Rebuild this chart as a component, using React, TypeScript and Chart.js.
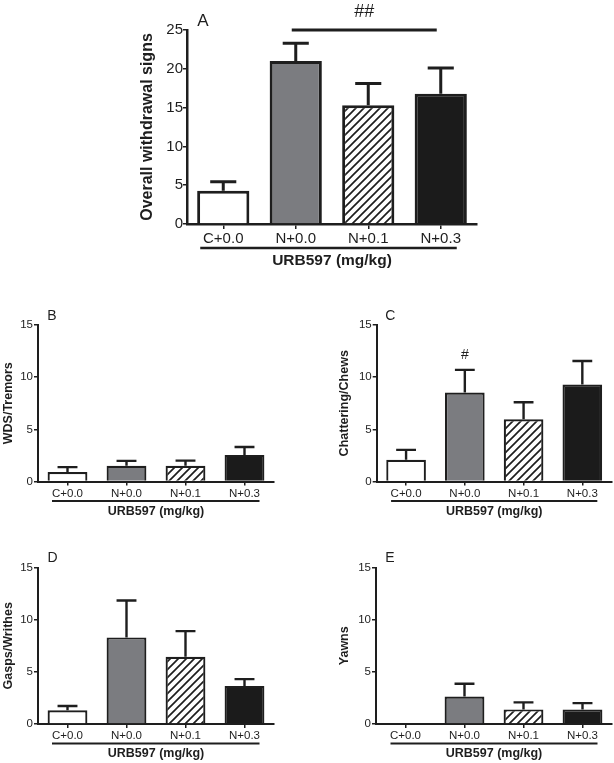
import React, { useEffect, useRef } from "react";
import { Chart, registerables } from "chart.js";

Chart.register(...registerables);

// ---------- data ----------
const categories = ["C+0.0", "N+0.0", "N+0.1", "N+0.3"];
const xAxisTitle = "URB597 (mg/kg)";

const overallMean = [4.3, 21.0, 15.3, 16.8];
const overallSem = [1.15, 2.3, 2.8, 3.3];
const overallTicks = [0, 5, 10, 15, 20, 25];

const wdsMean = [0.9, 1.5, 1.5, 2.55];
const wdsSem = [0.48, 0.48, 0.5, 0.75];

const chatterMean = [2.08, 8.52, 5.97, 9.3];
const chatterSem = [0.95, 2.18, 1.63, 2.25];

const gaspsMean = [1.32, 8.3, 6.44, 3.65];
const gaspsSem = [0.41, 3.53, 2.46, 0.65];

const yawnsMean = [0, 2.63, 1.4, 1.4];
const yawnsSem = [0, 1.23, 0.67, 0.6];

const smallTicks = [0, 5, 10, 15];

// significance marks: text, first bar index, last bar index
const sigOverall = { text: "##", from: 1, to: 3 };
const sigChatter = { text: "#", from: 1, to: 1 };

// ---------- styling ----------
const INK = "#1e1e1e";
const FONT = "'Liberation Sans', Arial, Helvetica, sans-serif";
const GRAY = "#7b7c80";
const BLACK = "#1b1b1b";

function makeHatch(): CanvasPattern | string {
  const size = 8;
  const c = document.createElement("canvas");
  c.width = size;
  c.height = size;
  const g = c.getContext("2d");
  if (!g) return "#fff";
  g.fillStyle = "#fff";
  g.fillRect(0, 0, size, size);
  g.strokeStyle = INK;
  g.lineWidth = 1.7;
  g.beginPath();
  g.moveTo(-size / 2, size / 2);
  g.lineTo(size / 2, -size / 2);
  g.moveTo(0, size);
  g.lineTo(size, 0);
  g.moveTo(size / 2, size * 1.5);
  g.lineTo(size * 1.5, size / 2);
  g.stroke();
  const p = g.createPattern(c, "repeat");
  return p || "#fff";
}

type Sig = { text: string; from: number; to: number } | null;

type PanelDef = {
  letter: string;
  yTitle: string;
  mean: number[];
  sem: number[];
  ticks: number[];
  sig: Sig;
  big: boolean;
  box: { left: number; top: number; w: number; h: number };
  padTop: number;
  padRight: number;
  yWidth: number;
  xHeight: number;
  yTitleX: number;
  letterDx: number;
  lineExt: [number, number];
};

const panels: PanelDef[] = [
  {
    letter: "A", yTitle: "Overall withdrawal signs", mean: overallMean, sem: overallSem,
    ticks: overallTicks, sig: sigOverall, big: true,
    box: { left: 120, top: 0, w: 370, h: 275 }, padTop: 30, padRight: 13, yWidth: 67, xHeight: 51,
    yTitleX: 28, letterDx: 16, lineExt: [23, 16],
  },
  {
    letter: "B", yTitle: "WDS/Tremors", mean: wdsMean, sem: wdsSem,
    ticks: smallTicks, sig: null, big: false,
    box: { left: 0, top: 290, w: 300, h: 230 }, padTop: 35, padRight: 26, yWidth: 38, xHeight: 38.5,
    yTitleX: 9, letterDx: 14, lineExt: [15.5, 15],
  },
  {
    letter: "C", yTitle: "Chattering/Chews", mean: chatterMean, sem: chatterSem,
    ticks: smallTicks, sig: sigChatter, big: false,
    box: { left: 300, top: 290, w: 314, h: 230 }, padTop: 35, padRight: 2.3, yWidth: 76.7, xHeight: 38.5,
    yTitleX: 45, letterDx: 13.5, lineExt: [15, 15],
  },
  {
    letter: "D", yTitle: "Gasps/Writhes", mean: gaspsMean, sem: gaspsSem,
    ticks: smallTicks, sig: null, big: false,
    box: { left: 0, top: 533, w: 300, h: 230 }, padTop: 34.5, padRight: 26, yWidth: 38, xHeight: 39,
    yTitleX: 8.5, letterDx: 14.5, lineExt: [15.5, 15],
  },
  {
    letter: "E", yTitle: "Yawns", mean: yawnsMean, sem: yawnsSem,
    ticks: smallTicks, sig: null, big: false,
    box: { left: 300, top: 533, w: 314, h: 230 }, padTop: 34.5, padRight: 2, yWidth: 76, xHeight: 39,
    yTitleX: 45, letterDx: 14, lineExt: [15, 15],
  },
];

function buildChart(canvas: HTMLCanvasElement, p: PanelDef, hatch: CanvasPattern | string) {
  const big = p.big;
  const tickSize = big ? 15 : 11.5;
  const yTitleSize = big ? 16 : 12.5;
  const xTitleSize = big ? 15.5 : 12.5;
  const letterSize = big ? 17 : 14;
  const sigSize = big ? 18 : 14;
  const barBorder = big ? 3 : 2.2;
  const errW = big ? 3 : 2.4;
  const axisW = big ? 2.5 : 2;
  const xTickLen = big ? 5 : 4;
  const tickCenterOff = big ? 15 : 12;
  const underlineOff = big ? 24 : 19.5;
  const xTitleOff = big ? 37 : 30;

  const xTickPad = tickCenterOff - xTickLen - (tickSize * 1.2) / 2;
  const xTitlePadBottom = p.xHeight - xTitleOff - (xTitleSize * 1.2) / 2;
  const yTitlePadTop = p.yTitleX - (yTitleSize * 1.2) / 2;
  const yMax = p.ticks[p.ticks.length - 1];

  const decor = {
    id: "decor" + p.letter,
    afterDatasetsDraw(chart: any) {
      const { ctx, chartArea } = chart;
      const x = chart.scales.x;
      const y = chart.scales.y;
      const meta = chart.getDatasetMeta(0);
      ctx.save();
      ctx.strokeStyle = INK;
      ctx.fillStyle = INK;
      ctx.lineCap = "butt";
      // error bars (upper half only)
      meta.data.forEach((bar: any, i: number) => {
        const m = p.mean[i];
        const s = p.sem[i];
        if (!(s > 0)) return;
        const base = y.getPixelForValue(m);
        const top = y.getPixelForValue(m + s);
        const half = (bar.width * 0.5) / 2;
        ctx.lineWidth = errW;
        ctx.beginPath();
        ctx.moveTo(bar.x, base);
        ctx.lineTo(bar.x, top);
        ctx.moveTo(bar.x - half, top);
        ctx.lineTo(bar.x + half, top);
        ctx.stroke();
      });
      // significance
      if (p.sig) {
        const sg = p.sig;
        ctx.font = `${sigSize}px ${FONT}`;
        ctx.textAlign = "center";
        ctx.textBaseline = "middle";
        if (sg.from === sg.to) {
          const bx = x.getPixelForValue(sg.from);
          const top = y.getPixelForValue(p.mean[sg.from] + p.sem[sg.from]);
          ctx.fillText(sg.text, bx, top - 15);
        } else {
          const x1 = x.getPixelForValue(sg.from) - 4;
          const x2 = x.getPixelForValue(sg.to) - 4;
          const ly = y.getPixelForValue(yMax);
          ctx.lineWidth = 3;
          ctx.beginPath();
          ctx.moveTo(x1, ly);
          ctx.lineTo(x2, ly);
          ctx.stroke();
          ctx.fillText(sg.text, (x1 + x2) / 2, ly - 18);
        }
      }
      // line under the category labels
      const first = x.getPixelForValue(0);
      const last = x.getPixelForValue(categories.length - 1);
      const uy = chartArea.bottom + underlineOff;
      ctx.lineWidth = big ? 2.5 : 2;
      ctx.beginPath();
      ctx.moveTo(first - p.lineExt[0], uy);
      ctx.lineTo(last + p.lineExt[1], uy);
      ctx.stroke();
      // panel letter
      ctx.font = `${letterSize}px ${FONT}`;
      ctx.textAlign = "center";
      ctx.textBaseline = "middle";
      ctx.fillText(p.letter, chartArea.left + p.letterDx, chartArea.top - 9);
      ctx.restore();
    },
  };

  return new Chart(canvas, {
    type: "bar",
    data: {
      labels: categories,
      datasets: [
        {
          data: p.mean,
          backgroundColor: ["#ffffff", GRAY, hatch as any, BLACK],
          borderColor: INK,
          borderWidth: barBorder,
          categoryPercentage: 1,
          barPercentage: big ? 0.72 : 0.675,
        },
      ],
    },
    options: {
      responsive: false,
      animation: false,
      devicePixelRatio: 1,
      layout: {
        autoPadding: false,
        padding: { left: 0, top: p.padTop, right: p.padRight, bottom: 0 },
      },
      plugins: {
        legend: { display: false },
        tooltip: { enabled: false },
        title: { display: false },
      },
      scales: {
        x: {
          type: "category",
          offset: true,
          grid: {
            display: true,
            drawOnChartArea: false,
            drawTicks: true,
            tickLength: xTickLen,
            offset: false,
            color: INK,
            lineWidth: 1.5,
          },
          border: { display: true, color: INK, width: axisW },
          ticks: {
            color: INK,
            font: { size: tickSize, family: FONT },
            padding: xTickPad,
            maxRotation: 0,
            autoSkip: false,
          },
          title: {
            display: true,
            text: xAxisTitle,
            color: INK,
            font: { size: xTitleSize, weight: "bold", family: FONT },
            padding: { top: 0, bottom: xTitlePadBottom },
          },
          afterFit: (s: any) => {
            s.height = p.xHeight;
          },
        },
        y: {
          type: "linear",
          min: 0,
          max: yMax,
          afterBuildTicks: (s: any) => {
            s.ticks = p.ticks.map((v) => ({ value: v }));
          },
          grid: {
            display: true,
            drawOnChartArea: false,
            drawTicks: true,
            tickLength: 4,
            color: INK,
            lineWidth: 1.5,
          },
          border: { display: true, color: INK, width: axisW },
          ticks: {
            color: INK,
            font: { size: tickSize, family: FONT },
            padding: big ? 0 : 1,
          },
          title: {
            display: true,
            text: p.yTitle,
            color: INK,
            font: { size: yTitleSize, weight: "bold", family: FONT },
            padding: { top: yTitlePadTop, bottom: 0 },
          },
          afterFit: (s: any) => {
            s.width = p.yWidth;
          },
        },
      },
    } as any,
    plugins: [decor as any],
  });
}

export default function App() {
  const refs = useRef<(HTMLCanvasElement | null)[]>([]);

  useEffect(() => {
    const hatch = makeHatch();
    const charts: Chart[] = [];
    panels.forEach((p, i) => {
      const c = refs.current[i];
      if (c) charts.push(buildChart(c, p, hatch));
    });
    return () => {
      charts.forEach((ch) => ch.destroy());
    };
  }, []);

  return (
    <div
      style={{
        position: "absolute",
        left: 0,
        top: 0,
        width: 614,
        height: 763,
        background: "#ffffff",
        overflow: "hidden",
      }}
    >
      {panels.map((p, i) => (
        <canvas
          key={p.letter}
          ref={(el) => {
            refs.current[i] = el;
          }}
          width={p.box.w}
          height={p.box.h}
          style={{
            position: "absolute",
            left: p.box.left,
            top: p.box.top,
            width: p.box.w,
            height: p.box.h,
          }}
        />
      ))}
    </div>
  );
}
